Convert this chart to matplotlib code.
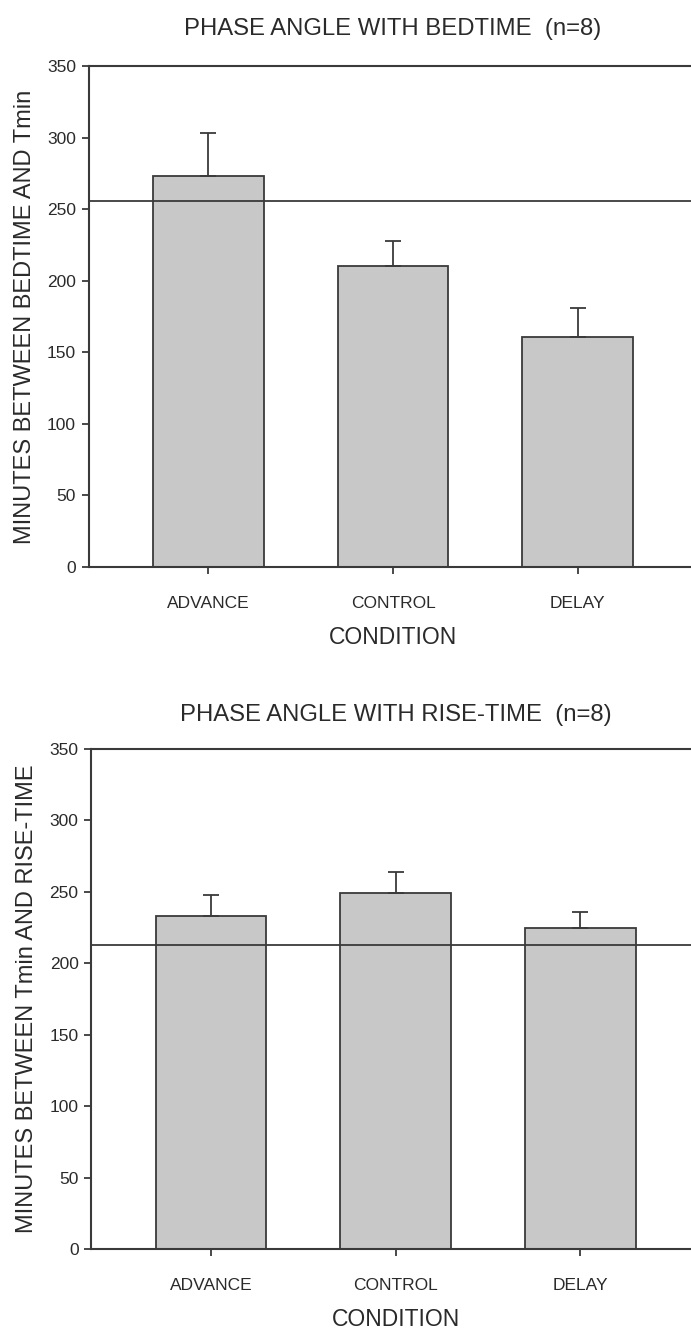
import matplotlib
matplotlib.use("Agg")
import matplotlib.pyplot as plt

categories = ["ADVANCE", "CONTROL", "DELAY"]

bed_means = [273, 210, 161]
bed_err = [30, 18, 20]
bed_ref = 256

rise_means = [233, 249, 225]
rise_err = [15, 15, 11]
rise_ref = 212.5

yticks = [0, 50, 100, 150, 200, 250, 300, 350]

FONT = ["Liberation Sans Narrow", "Liberation Sans", "DejaVu Sans"]
plt.rcParams["font.family"] = FONT

fig = plt.figure(figsize=(6.91, 13.30), dpi=100)

W, H = 691, 1330
edge = "#3a3a3a"
barc = "#c8c8c8"
txt = "#2a2a2a"


def panel(left_px, top_px, bot_px, means, errs, ref, title, ylabel, tpad):
    ax_w = 609.2
    ax = fig.add_axes([left_px / W, 1 - bot_px / H, ax_w / W, (bot_px - top_px) / H])
    x = list(range(len(categories)))
    ax.bar(x, means, width=0.6, color=barc, edgecolor=edge, linewidth=1.3, zorder=2)
    ax.errorbar(x, means, yerr=[[0] * len(errs), errs], fmt="none", ecolor=edge,
                elinewidth=1.3, capsize=6, capthick=1.3, zorder=3)
    ax.axhline(ref, color=edge, linewidth=1.3, zorder=4)
    ax.set_xlim(-0.65, 2.65)
    ax.set_ylim(0, 350)
    ax.set_yticks(yticks)
    ax.set_xticks(x)
    ax.set_xticklabels(categories)
    for s in ["left", "bottom", "top"]:
        ax.spines[s].set_color(edge)
        ax.spines[s].set_linewidth(1.5)
    ax.spines["right"].set_visible(False)
    ax.tick_params(axis="both", direction="out", length=5, width=1.3, color=edge,
                   labelsize=12.5, labelcolor=txt)
    ax.tick_params(axis="x", pad=16)
    ax.tick_params(axis="y", pad=4)
    ax.set_title(title, fontsize=17.2, color=txt, pad=tpad)
    ax.set_xlabel("CONDITION", fontsize=16.5, color=txt, labelpad=11)
    ax.set_ylabel(ylabel, fontsize=17, color=txt, labelpad=8)
    return ax


panel(88.5, 66, 567, bed_means, bed_err, bed_ref,
      "PHASE ANGLE WITH BEDTIME  (n=8)", "MINUTES BETWEEN BEDTIME AND Tmin", 22)
panel(91, 749, 1249, rise_means, rise_err, rise_ref,
      "PHASE ANGLE WITH RISE-TIME  (n=8)", "MINUTES BETWEEN Tmin AND RISE-TIME", 20)

fig.savefig("out.png", dpi=100)
